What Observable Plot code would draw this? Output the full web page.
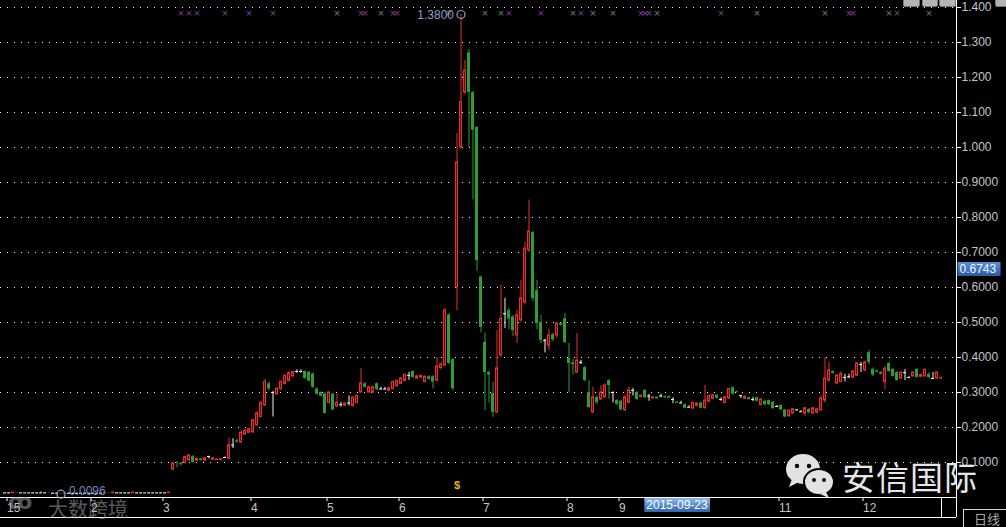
<!DOCTYPE html>
<html><head><meta charset="utf-8">
<script src="https://cdn.jsdelivr.net/npm/d3@7"></script>
<script src="https://cdn.jsdelivr.net/npm/@observablehq/plot@0.6"></script>
<style>
html,body{margin:0;padding:0;background:#000;}
#wrap{position:relative;width:1006px;height:527px;overflow:hidden;background:#000;}
#wrap svg{display:block;}
.ov{position:absolute;pointer-events:none;}
.btn{position:absolute;top:-10px;height:15px;background:#b4b4b4;border:1px solid #777;border-radius:2px;}
#wm1{left:48px;top:494px;font:20px "Noto Sans CJK SC",sans-serif;color:rgba(170,170,170,0.55);}
#wm0{left:8px;top:489px;font:bold 22px "DejaVu Sans",sans-serif;color:rgba(170,170,170,0.5);}
#wm2{left:842px;top:452px;font:33px "Noto Sans CJK SC",sans-serif;color:#e6e6e6;letter-spacing:1px;}
#daybox{left:963px;top:509px;width:50px;height:20px;border-top:1px solid #d8d8d8;border-left:1px solid #d8d8d8;color:#a8a8a8;font:13px "Noto Sans CJK SC",sans-serif;line-height:18px;padding-left:10px;box-sizing:border-box;}
</style></head>
<body><div id="wrap"></div>
<script>
// ---- data ----
const candlesJanFeb = [
[0.013,0.014,0.012,0.013],[0.013,0.014,0.012,0.013],[0.012,0.015,0.012,0.014],[0.014,0.014,0.012,0.013],
[0.013,0.014,0.012,0.013],[0.013,0.013,0.012,0.013],[0.013,0.014,0.013,0.013],[0.013,0.014,0.012,0.013],
[0.013,0.014,0.012,0.013],[0.013,0.016,0.012,0.013],[0.013,0.014,0.012,0.013],[0.013,0.013,0.012,0.012],
[0.012,0.013,0.011,0.012],[0.012,0.013,0.011,0.012],[0.012,0.012,0.0096,0.011],[0.011,0.013,0.011,0.012],
[0.012,0.013,0.011,0.012],[0.012,0.013,0.012,0.012],[0.012,0.013,0.011,0.012],[0.012,0.013,0.012,0.012],
[0.012,0.013,0.011,0.012],[0.012,0.013,0.012,0.012],[0.012,0.013,0.011,0.012],[0.012,0.013,0.012,0.012],
[0.012,0.013,0.011,0.012],[0.012,0.014,0.012,0.013],[0.013,0.013,0.012,0.012],[0.012,0.015,0.012,0.014],
[0.013,0.014,0.012,0.013],[0.013,0.014,0.012,0.013],[0.013,0.014,0.012,0.013],[0.013,0.014,0.013,0.013],
[0.012,0.015,0.012,0.014],[0.013,0.014,0.012,0.013],[0.013,0.014,0.012,0.013],[0.013,0.014,0.013,0.013],
[0.013,0.014,0.012,0.013],[0.013,0.014,0.012,0.013],[0.013,0.014,0.013,0.013],[0.013,0.014,0.012,0.013],
[0.013,0.014,0.012,0.013],[0.013,0.015,0.012,0.014]
];
const candlesMarJun = [
[0.080,0.100,0.078,0.097],[0.100,0.103,0.085,0.098],[0.097,0.099,0.090,0.094],[0.098,0.118,0.096,0.115],
[0.106,0.122,0.104,0.120],[0.117,0.120,0.098,0.100],[0.105,0.112,0.103,0.110],[0.110,0.112,0.104,0.106],
[0.106,0.113,0.104,0.112],[0.117,0.118,0.110,0.117],[0.108,0.113,0.107,0.112],[0.107,0.110,0.106,0.109],
[0.107,0.110,0.106,0.109],[0.114,0.116,0.112,0.114],[0.111,0.170,0.108,0.149],[0.150,0.168,0.140,0.150],
[0.162,0.166,0.155,0.158],[0.157,0.190,0.155,0.185],[0.180,0.195,0.178,0.190],[0.185,0.198,0.183,0.195],
[0.186,0.224,0.184,0.220],[0.206,0.245,0.204,0.240],[0.230,0.275,0.228,0.270],[0.263,0.338,0.260,0.330],
[0.325,0.330,0.305,0.310],[0.300,0.303,0.230,0.300],[0.295,0.315,0.292,0.310],[0.310,0.333,0.305,0.330],
[0.325,0.350,0.322,0.348],[0.333,0.360,0.330,0.355],[0.346,0.362,0.344,0.358],[0.360,0.365,0.355,0.360],
[0.360,0.365,0.355,0.360],[0.360,0.362,0.338,0.340],[0.358,0.360,0.330,0.333],[0.353,0.356,0.312,0.315],
[0.310,0.313,0.292,0.295],[0.300,0.302,0.287,0.290],[0.296,0.300,0.238,0.240],[0.270,0.302,0.268,0.300],
[0.295,0.298,0.248,0.250],[0.260,0.296,0.258,0.270],[0.265,0.272,0.258,0.265],[0.263,0.270,0.260,0.268],
[0.270,0.290,0.262,0.270],[0.262,0.287,0.258,0.285],[0.270,0.292,0.268,0.290],[0.300,0.369,0.298,0.326],
[0.325,0.328,0.312,0.315],[0.300,0.318,0.298,0.315],[0.300,0.318,0.298,0.315],[0.325,0.328,0.305,0.308],
[0.310,0.315,0.307,0.310],[0.310,0.315,0.307,0.310],[0.305,0.315,0.302,0.312],[0.310,0.332,0.308,0.330],
[0.318,0.335,0.316,0.333],[0.325,0.342,0.322,0.340],[0.333,0.352,0.330,0.350],
[0.349,0.358,0.335,0.349],[0.360,0.362,0.340,0.343],[0.340,0.348,0.337,0.346],[0.343,0.350,0.340,0.347],
[0.330,0.347,0.328,0.345],[0.345,0.348,0.335,0.338],[0.345,0.348,0.310,0.330],[0.334,0.400,0.330,0.374],
[0.370,0.385,0.365,0.380],[0.377,0.540,0.375,0.534],[0.522,0.525,0.380,0.383],[0.394,0.398,0.305,0.311]
];
const candlesJulSep = [
[0.600,1.040,0.534,0.957],[1.000,1.380,0.995,1.130],[1.157,1.249,1.150,1.220],[1.270,1.280,1.000,1.157],
[1.157,1.160,0.850,1.050],[1.057,1.060,0.647,0.677],[0.630,0.632,0.470,0.486],[0.443,0.470,0.249,0.357],
[0.357,0.360,0.270,0.350],[0.297,0.330,0.229,0.243],[0.243,0.477,0.240,0.369],[0.406,0.606,0.400,0.510],
[0.525,0.569,0.483,0.525],[0.534,0.540,0.480,0.510],[0.516,0.520,0.460,0.477],[0.463,0.534,0.440,0.520],
[0.506,0.620,0.500,0.569],[0.557,0.729,0.550,0.711],[0.706,0.850,0.700,0.760],[0.757,0.760,0.560,0.569],
[0.591,0.620,0.480,0.497],[0.500,0.520,0.440,0.449],[0.449,0.452,0.413,0.449],[0.434,0.480,0.420,0.463],
[0.465,0.470,0.445,0.450],[0.463,0.500,0.455,0.497],[0.497,0.500,0.490,0.492],[0.511,0.526,0.440,0.443],
[0.397,0.440,0.300,0.383],[0.385,0.395,0.350,0.380],[0.357,0.469,0.355,0.391],[0.386,0.392,0.380,0.386],
[0.371,0.375,0.330,0.334],[0.300,0.334,0.255,0.257],[0.243,0.315,0.240,0.286],[0.286,0.290,0.265,0.271],
[0.280,0.320,0.278,0.300],[0.286,0.325,0.284,0.320],[0.334,0.336,0.280,0.320],[0.300,0.302,0.270,0.300],
[0.277,0.280,0.262,0.266],[0.275,0.278,0.248,0.250],[0.249,0.292,0.246,0.286],[0.271,0.315,0.268,0.306],
[0.306,0.312,0.290,0.306],[0.300,0.303,0.278,0.280],[0.287,0.293,0.285,0.291],[0.306,0.308,0.283,0.285],
[0.290,0.295,0.275,0.290],[0.284,0.288,0.280,0.286],[0.286,0.288,0.280,0.282],[0.290,0.295,0.285,0.290],
[0.288,0.290,0.283,0.285],[0.288,0.290,0.282,0.284],[0.280,0.285,0.268,0.280],[0.272,0.274,0.268,0.269]
];
const candlesOctDec = [
[0.270,0.275,0.268,0.270],[0.265,0.267,0.253,0.255],[0.258,0.262,0.256,0.258],[0.254,0.272,0.252,0.270],
[0.262,0.272,0.260,0.268],[0.270,0.272,0.254,0.255],[0.255,0.320,0.253,0.277],[0.274,0.292,0.272,0.290],
[0.282,0.296,0.280,0.292],[0.292,0.294,0.280,0.284],[0.280,0.285,0.275,0.280],[0.270,0.288,0.268,0.286],
[0.283,0.312,0.280,0.310],[0.314,0.316,0.293,0.295],[0.302,0.304,0.298,0.300],[0.291,0.292,0.283,0.291],
[0.282,0.290,0.280,0.288],[0.285,0.287,0.278,0.280],[0.280,0.286,0.274,0.280],[0.285,0.287,0.273,0.275],
[0.264,0.282,0.262,0.280],[0.275,0.278,0.262,0.265],[0.277,0.279,0.263,0.265],[0.272,0.274,0.252,0.254],
[0.260,0.263,0.257,0.260],[0.263,0.265,0.248,0.250],[0.250,0.252,0.228,0.230],[0.232,0.250,0.230,0.248],
[0.240,0.254,0.238,0.252],[0.250,0.252,0.248,0.250],[0.245,0.248,0.243,0.245],[0.240,0.257,0.232,0.255],
[0.252,0.254,0.240,0.242],[0.240,0.257,0.238,0.255],[0.242,0.254,0.240,0.252],[0.249,0.290,0.246,0.283],
[0.277,0.400,0.270,0.340],[0.334,0.386,0.330,0.363],[0.360,0.362,0.352,0.355],[0.326,0.350,0.322,0.348],
[0.330,0.360,0.328,0.352],[0.343,0.352,0.330,0.343],[0.345,0.352,0.340,0.345],[0.343,0.362,0.340,0.360],
[0.348,0.385,0.345,0.383],[0.380,0.386,0.357,0.380],[0.363,0.390,0.360,0.386],[0.414,0.420,0.380,0.386],
[0.366,0.370,0.345,0.350],[0.362,0.364,0.356,0.358],[0.357,0.360,0.350,0.352],[0.330,0.375,0.308,0.368],
[0.383,0.386,0.358,0.360],[0.366,0.368,0.344,0.346],[0.357,0.360,0.332,0.334],[0.340,0.358,0.338,0.357],
[0.357,0.366,0.334,0.357],[0.343,0.345,0.341,0.343],[0.346,0.358,0.344,0.357],[0.366,0.368,0.341,0.343],
[0.345,0.352,0.343,0.350],[0.346,0.367,0.344,0.365],[0.352,0.356,0.340,0.343],[0.340,0.357,0.340,0.340],
[0.340,0.358,0.338,0.357],[0.340,0.343,0.339,0.342]
];
const monthTicks  = [0, 21, 39, 61, 80, 98, 119, 140, 153, 172, 193, 214];
const monthLabels = ["15","2","3","4","5","6","7","8","9","10","11","12"];
const yTicks = [0.1,0.2,0.3,0.4,0.5,0.6,0.7,0.8,0.9,1.0,1.1,1.2,1.3,1.4];
const purpleSignals = [44,46,48,55,61,67,89,90,97,98,126,134,144,159,160,161,179,211,212,223];
const greenSignals  = [83,94,111,120,124,142,147,152,163,188,205,221,231];
const cursorDate = "2015-09-23";
const cursorIndex = 168;
const cursorPrice = 0.6743;
const dollarIndex = 113;

// ---- build ----
const candles = [].concat(candlesJanFeb, candlesMarJun, candlesJulSep, candlesOctDec);
const data = candles.map(([o,h,l,c], i) => ({i, o, h, l, c, dir: c > o ? "up" : c < o ? "down" : "flat"}));
const up = data.filter(d => d.dir === "up");
const down = data.filter(d => d.dir === "down");
const flat = data.filter(d => d.dir === "flat");
const maxC = data.reduce((a, b) => b.h > a.h ? b : a);
const minC = data.reduce((a, b) => b.l < a.l ? b : a);
const labelMap = new Map(monthTicks.map((t, k) => [t, monthLabels[k]]));
const RED = "#e6302e", RED_IN = "#5c0d0d", GREEN = "#2f9d33", WHITE = "#f2f2f2";
const xDomain = [-1.125, 237.875];
const font = "'Liberation Sans', Arial, sans-serif";

const chart = Plot.plot({
  width: 1006, height: 527,
  marginLeft: 0, marginRight: 50, marginTop: 0, marginBottom: 30,
  style: {background: "#000", color: "#c4c4c4", fontFamily: font, fontSize: "12px"},
  x: {domain: xDomain, axis: null},
  y: {domain: [0, 1.42], axis: null},
  marks: [
    Plot.gridY(yTicks, {stroke: "#ffffff", strokeOpacity: 0.95, strokeDasharray: "1,6"}),
    Plot.ruleY([0], {stroke: "#ffffff"}),
    Plot.ruleY([0], {stroke: "#ffffff", dy: 20}),
    Plot.ruleX([xDomain[1]], {stroke: "#ffffff", insetBottom: -20}),
    Plot.axisX({ticks: monthTicks, tickFormat: d => labelMap.get(d), tickSize: 4, tickPadding: 2,
      textAnchor: "start", dx: 2, fill: "#c4c4c4", stroke: "#ffffff", fontSize: 12, label: null}),
    Plot.axisY({anchor: "right", ticks: yTicks, tickFormat: d => d >= 1 ? d.toFixed(3) : d.toFixed(4),
      tickSize: 4, tickPadding: 1, fill: "#c4c4c4", stroke: "#ffffff", fontSize: 12, label: null}),
    // wicks
    Plot.ruleX(up, {x: "i", y1: "l", y2: "h", stroke: RED}),
    Plot.ruleX(down, {x: "i", y1: "l", y2: "h", stroke: GREEN}),
    Plot.ruleX(flat, {x: "i", y1: "l", y2: "h", stroke: WHITE}),
    // bodies
    Plot.rect(down, {x1: d => d.i - 0.5, x2: d => d.i + 0.5, y1: "o", y2: "c", insetLeft: 0.5, insetRight: 0.5, fill: GREEN}),
    Plot.rect(up, {x1: d => d.i - 0.5, x2: d => d.i + 0.5, y1: "o", y2: "c", insetLeft: 1, insetRight: 1, fill: RED_IN, stroke: RED}),
    Plot.ruleY(flat, {y: "o", x1: d => d.i - 0.5, x2: d => d.i + 0.5, insetLeft: 0.5, insetRight: 0.5, stroke: WHITE}),
    // signal marks at top
    Plot.text(purpleSignals, {x: d => d, frameAnchor: "top", dy: 9, text: () => "×", fill: "#8a3ca0", fontSize: 11}),
    Plot.text(greenSignals, {x: d => d, frameAnchor: "top", dy: 9, text: () => "×", fill: "#628a66", fontSize: 11}),
    // high / low markers
    Plot.dot([maxC], {x: "i", y: "h", r: 4, stroke: "#8c9ed0", strokeWidth: 1.2}),
    Plot.text([maxC], {x: "i", y: "h", text: d => d.h.toFixed(4), textAnchor: "end", dx: -7, dy: 1, fill: "#8c9ed0", fontSize: 12}),
    Plot.dot([minC], {x: "i", y: "l", r: 4, stroke: "#8c9ed0", strokeWidth: 1.2}),
    Plot.text([minC], {x: "i", y: "l", text: d => d.l.toFixed(4), textAnchor: "start", dx: 8, dy: -3, fill: "#7088c0", fontSize: 12}),
    Plot.text([dollarIndex], {x: d => d, frameAnchor: "bottom", dy: -9, text: () => "$", fill: "#e6b41e", fontWeight: "bold", fontSize: 11}),
    // cursor labels
    Plot.text([cursorDate], {x: () => cursorIndex, frameAnchor: "bottom", lineAnchor: "top", dy: 3, text: d => d,
      fill: "#ffffff", fontSize: 12}),
    Plot.text([cursorPrice], {y: d => d, frameAnchor: "right", textAnchor: "start", lineAnchor: "top", dx: 3, dy: 3,
      text: d => d.toFixed(4), fill: "#f0f6ff", fontSize: 12})
  ]
});

const wrap = document.getElementById("wrap");
wrap.appendChild(chart);

// label backgrounds (gradient boxes) sized from the rendered text
const ns = "http://www.w3.org/2000/svg";
const defs = document.createElementNS(ns, "defs");
defs.innerHTML = `
<linearGradient id="gDate" x1="0" y1="0" x2="0" y2="1"><stop offset="0" stop-color="#8ab8ec"/><stop offset="1" stop-color="#2f64aa"/></linearGradient>
<linearGradient id="gPrice" x1="0" y1="0" x2="0" y2="1"><stop offset="0" stop-color="#5b8fd6"/><stop offset="1" stop-color="#2a5ba3"/></linearGradient>`;
chart.insertBefore(defs, chart.firstChild);
function addBg(content, fillId, padL, padR, padT, padB) {
  const t = Array.from(chart.querySelectorAll("text")).find(e => e.textContent === content);
  if (!t) return;
  const b = t.getBBox();
  const r = document.createElementNS(ns, "rect");
  r.setAttribute("x", b.x - padL); r.setAttribute("y", b.y - padT);
  r.setAttribute("width", b.width + padL + padR); r.setAttribute("height", b.height + padT + padB);
  r.setAttribute("fill", `url(#${fillId})`);
  if (t.getAttribute("transform")) r.setAttribute("transform", t.getAttribute("transform"));
  t.parentNode.insertBefore(r, t);
}
addBg(cursorDate, "gDate", 2, 2, 0, 0);
addBg(cursorPrice.toFixed(4), "gPrice", 2, 4, 0, 0);

// divider at last candle in the date strip
const xs = chart.scale("x"), ys = chart.scale("y");
const lx = Math.round(xs.apply(data.length - 1)) + 0.5;
const ln = document.createElementNS(ns, "line");
ln.setAttribute("x1", lx); ln.setAttribute("x2", lx);
ln.setAttribute("y1", ys.apply(0)); ln.setAttribute("y2", ys.apply(0) + 20);
ln.setAttribute("stroke", "#fff");
chart.appendChild(ln);

// overlays: toolbar buttons, watermarks, day box
wrap.insertAdjacentHTML("beforeend", `
<div class="ov btn" style="left:903px;width:15px"></div>
<div class="ov btn" style="left:922px;width:14px"></div>
<div class="ov btn" style="left:939px;width:15px"></div>
<div class="ov btn" style="left:995px;width:14px"></div>
<div class="ov" id="wm0">ꝏ</div>
<div class="ov" id="wm1">大数跨境</div>
<svg class="ov" style="left:784px;top:452px" width="52" height="48" viewBox="0 0 52 48">
  <ellipse cx="19" cy="17" rx="17" ry="15" fill="#e2e2e2"/>
  <path d="M8 27 L5 35 L15 30 Z" fill="#e2e2e2"/>
  <circle cx="13" cy="14" r="2.2" fill="#000"/><circle cx="25" cy="14" r="2.2" fill="#000"/>
  <ellipse cx="35" cy="30" rx="15" ry="13" fill="#e2e2e2" stroke="#000" stroke-width="2"/>
  <path d="M42 40 L45 46 L36 42 Z" fill="#e2e2e2"/>
  <circle cx="30" cy="28" r="2" fill="#000"/><circle cx="40" cy="28" r="2" fill="#000"/>
</svg>
<div class="ov" id="wm2">安信国际</div>
<div class="ov" id="daybox">日线</div>
`);
</script>
</body></html>
